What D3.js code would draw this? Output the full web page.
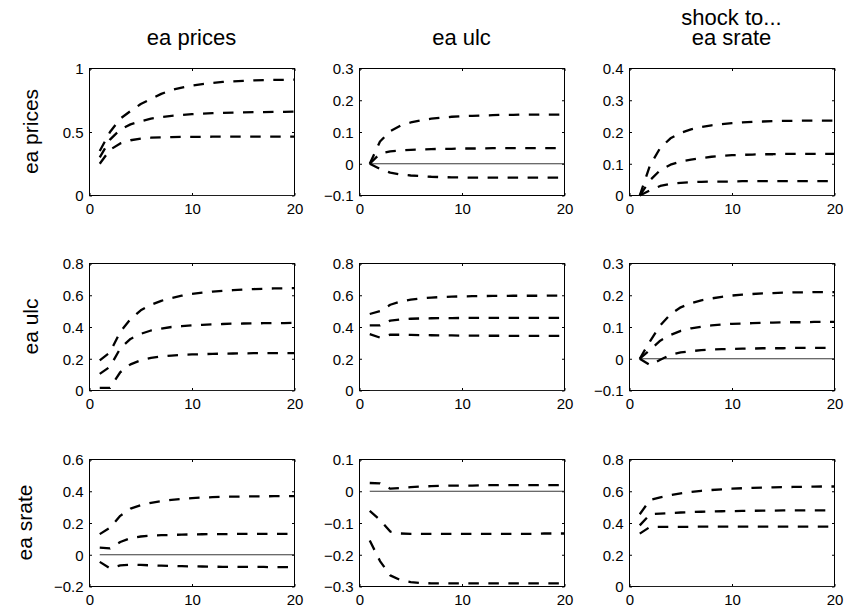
<!DOCTYPE html>
<html><head><meta charset="utf-8">
<script src="https://cdn.jsdelivr.net/npm/d3@7"></script>
<style>body{margin:0;background:#fff}svg{display:block}</style>
</head><body>
<svg id="chart" width="844" height="607"></svg>
<script>
// ---------- data ----------
const horizons = [1,2,3,4,5,6,7,8,9,10,11,12,13,14,15,16,17,18,19,20];
const shockNames = ["ea prices", "ea ulc", "ea srate"];
const responseNames = ["ea prices", "ea ulc", "ea srate"];
const titleTop = "shock to...";

// row 1: response of ea prices
const pricesToPricesHi = [0.35,0.50,0.605,0.665,0.72,0.76,0.80,0.83,0.85,0.865,0.877,0.887,0.894,0.899,0.903,0.906,0.908,0.910,0.911,0.912];
const pricesToPricesMid = [0.30,0.44,0.52,0.56,0.585,0.605,0.618,0.627,0.634,0.640,0.644,0.648,0.651,0.653,0.655,0.656,0.657,0.658,0.659,0.660];
const pricesToPricesLo = [0.25,0.36,0.41,0.435,0.448,0.455,0.458,0.460,0.461,0.462,0.462,0.463,0.463,0.463,0.463,0.463,0.463,0.463,0.463,0.463];

const pricesToUlcHi = [0,0.070,0.103,0.120,0.130,0.137,0.142,0.145,0.148,0.150,0.151,0.152,0.153,0.154,0.154,0.155,0.155,0.155,0.155,0.155];
const pricesToUlcMid = [0,0.032,0.039,0.042,0.044,0.045,0.046,0.047,0.047,0.048,0.048,0.048,0.049,0.049,0.049,0.049,0.049,0.049,0.049,0.049];
const pricesToUlcLo = [0,-0.016,-0.028,-0.034,-0.037,-0.039,-0.041,-0.042,-0.043,-0.043,-0.044,-0.044,-0.044,-0.044,-0.044,-0.044,-0.044,-0.044,-0.044,-0.044];

const pricesToSrateHi = [0,0.095,0.150,0.180,0.197,0.208,0.216,0.221,0.225,0.228,0.230,0.232,0.233,0.234,0.235,0.235,0.236,0.236,0.236,0.236];
const pricesToSrateMid = [0,0.048,0.080,0.097,0.107,0.113,0.118,0.122,0.125,0.127,0.128,0.129,0.130,0.130,0.131,0.131,0.131,0.131,0.131,0.131];
const pricesToSrateLo = [0,0.016,0.030,0.037,0.040,0.042,0.043,0.044,0.044,0.044,0.045,0.045,0.045,0.045,0.045,0.045,0.045,0.045,0.045,0.045];

// row 2: response of ea ulc
const ulcToPricesHi = [0.19,0.24,0.37,0.45,0.505,0.54,0.565,0.583,0.597,0.608,0.616,0.623,0.628,0.632,0.636,0.639,0.641,0.643,0.644,0.645];
const ulcToPricesMid = [0.105,0.15,0.265,0.325,0.357,0.378,0.39,0.40,0.405,0.41,0.414,0.417,0.419,0.421,0.422,0.423,0.424,0.425,0.425,0.426];
const ulcToPricesLo = [0.017,0.017,0.115,0.165,0.19,0.205,0.214,0.22,0.224,0.227,0.229,0.231,0.232,0.233,0.234,0.235,0.235,0.236,0.236,0.236];

const ulcToUlcHi = [0.482,0.50,0.54,0.56,0.572,0.58,0.585,0.589,0.591,0.593,0.594,0.595,0.596,0.596,0.597,0.597,0.597,0.597,0.598,0.598];
const ulcToUlcMid = [0.41,0.41,0.44,0.448,0.452,0.454,0.455,0.456,0.456,0.457,0.457,0.457,0.457,0.457,0.457,0.457,0.457,0.457,0.457,0.457];
const ulcToUlcLo = [0.355,0.333,0.352,0.351,0.35,0.349,0.348,0.347,0.347,0.346,0.346,0.345,0.345,0.345,0.344,0.344,0.344,0.344,0.344,0.344];

const ulcToSrateHi = [0,0.055,0.105,0.14,0.162,0.175,0.184,0.19,0.195,0.199,0.202,0.204,0.206,0.207,0.208,0.209,0.209,0.21,0.21,0.21];
const ulcToSrateMid = [0,0.028,0.057,0.075,0.088,0.096,0.101,0.105,0.108,0.11,0.111,0.112,0.113,0.114,0.115,0.115,0.115,0.116,0.116,0.116];
const ulcToSrateLo = [0,-0.02,-0.003,0.012,0.02,0.024,0.027,0.029,0.03,0.031,0.032,0.032,0.033,0.033,0.033,0.034,0.034,0.034,0.034,0.034];

// row 3: response of ea srate
const srateToPricesHi = [0.13,0.17,0.245,0.29,0.312,0.327,0.338,0.346,0.352,0.357,0.36,0.363,0.365,0.366,0.367,0.368,0.368,0.369,0.369,0.369];
const srateToPricesMid = [0.045,0.04,0.08,0.105,0.115,0.12,0.123,0.125,0.127,0.128,0.129,0.13,0.13,0.131,0.131,0.131,0.132,0.132,0.132,0.132];
const srateToPricesLo = [-0.045,-0.085,-0.067,-0.062,-0.064,-0.067,-0.069,-0.071,-0.072,-0.073,-0.074,-0.075,-0.076,-0.076,-0.077,-0.077,-0.077,-0.078,-0.078,-0.078];

const srateToUlcHi = [0.026,0.025,0.008,0.01,0.013,0.015,0.016,0.017,0.018,0.018,0.018,0.019,0.019,0.019,0.019,0.019,0.019,0.019,0.019,0.019];
const srateToUlcMid = [-0.062,-0.09,-0.127,-0.133,-0.134,-0.134,-0.134,-0.134,-0.134,-0.134,-0.134,-0.134,-0.134,-0.134,-0.134,-0.134,-0.134,-0.133,-0.133,-0.133];
const srateToUlcLo = [-0.155,-0.22,-0.265,-0.28,-0.286,-0.289,-0.29,-0.29,-0.29,-0.29,-0.29,-0.29,-0.29,-0.29,-0.29,-0.29,-0.29,-0.29,-0.29,-0.29];

const srateToSrateHi = [0.455,0.545,0.562,0.575,0.587,0.596,0.603,0.608,0.612,0.616,0.619,0.621,0.623,0.625,0.626,0.627,0.628,0.629,0.63,0.63];
const srateToSrateMid = [0.385,0.455,0.459,0.463,0.466,0.469,0.471,0.473,0.474,0.475,0.476,0.477,0.478,0.478,0.479,0.479,0.479,0.48,0.48,0.48];
const srateToSrateLo = [0.333,0.375,0.376,0.376,0.376,0.376,0.377,0.377,0.377,0.377,0.377,0.377,0.377,0.377,0.377,0.377,0.377,0.377,0.377,0.377];

// axis limits and ticks (row-major, 3x3)
const yDomains = [[0,1],[-0.1,0.3],[0,0.4],[0,0.8],[0,0.8],[-0.1,0.3],[-0.2,0.6],[-0.3,0.1],[0,0.8]];
const yTickValues = [
  [0,0.5,1],[-0.1,0,0.1,0.2,0.3],[0,0.1,0.2,0.3,0.4],
  [0,0.2,0.4,0.6,0.8],[0,0.2,0.4,0.6,0.8],[-0.1,0,0.1,0.2,0.3],
  [-0.2,0,0.2,0.4,0.6],[-0.3,-0.2,-0.1,0,0.1],[0,0.2,0.4,0.6,0.8]
];
const yTickLabels = [
  ["0","0.5","1"],["\u22120.1","0","0.1","0.2","0.3"],["0","0.1","0.2","0.3","0.4"],
  ["0","0.2","0.4","0.6","0.8"],["0","0.2","0.4","0.6","0.8"],["\u22120.1","0","0.1","0.2","0.3"],
  ["\u22120.2","0","0.2","0.4","0.6"],["\u22120.3","\u22120.2","\u22120.1","0","0.1"],["0","0.2","0.4","0.6","0.8"]
];
const xDomain = [0,20];
const xTickValues = [0,10,20];
const xTickLabels = ["0","10","20"];

const panelSeries = [
  [pricesToPricesHi,pricesToPricesMid,pricesToPricesLo],
  [pricesToUlcHi,pricesToUlcMid,pricesToUlcLo],
  [pricesToSrateHi,pricesToSrateMid,pricesToSrateLo],
  [ulcToPricesHi,ulcToPricesMid,ulcToPricesLo],
  [ulcToUlcHi,ulcToUlcMid,ulcToUlcLo],
  [ulcToSrateHi,ulcToSrateMid,ulcToSrateLo],
  [srateToPricesHi,srateToPricesMid,srateToPricesLo],
  [srateToUlcHi,srateToUlcMid,srateToUlcLo],
  [srateToSrateHi,srateToSrateMid,srateToSrateLo]
];

// ---------- layout ----------
const FONT = "'Liberation Sans', Arial, Helvetica, sans-serif";
const colLeft = [89, 359, 629];
const rowTop = [68, 263, 459];
const pw = 205, ph = 127;
const rowLabelX = [38, 38, 32];

const svg = d3.select("#chart");
svg.append("rect").attr("width",844).attr("height",607).attr("fill","#fff");

const x = d3.scaleLinear().domain(xDomain).range([0, pw]);

for (let r = 0; r < 3; r++) {
  for (let c = 0; c < 3; c++) {
    const i = r*3 + c;
    const y = d3.scaleLinear().domain(yDomains[i]).range([ph, 0]);
    const g = svg.append("g").attr("transform", `translate(${colLeft[c]+0.5},${rowTop[r]+0.5})`);

    g.append("rect").attr("width", pw).attr("height", ph)
      .attr("fill", "#fff").attr("stroke", "#000").attr("stroke-width", 1);

    const styleAxis = (ax) => {
      ax.select(".domain").remove();
      ax.selectAll(".tick line").attr("stroke", "#000").attr("stroke-width", 1);
      ax.attr("font-family", FONT).attr("font-size", 15);
      ax.selectAll("text").attr("fill", "#000");
    };

    g.append("g").call(d3.axisLeft(y).tickValues(yTickValues[i]).tickSize(-2.5).tickPadding(6)
        .tickFormat((d, k) => yTickLabels[i][k])).call(styleAxis)
      .selectAll("text").attr("dy", "0.36em");
    g.append("g").attr("transform", `translate(${pw},0)`)
      .call(d3.axisRight(y).tickValues(yTickValues[i]).tickSize(-2.5).tickFormat("")).call(styleAxis);
    g.append("g").attr("transform", `translate(0,${ph})`)
      .call(d3.axisBottom(x).tickValues(xTickValues).tickSize(-2.5).tickPadding(8)
        .tickFormat((d, k) => xTickLabels[k])).call(styleAxis);
    g.append("g")
      .call(d3.axisTop(x).tickValues(xTickValues).tickSize(-2.5).tickFormat("")).call(styleAxis);

    // zero reference line
    const [y0, y1] = yDomains[i];
    if (y0 <= 0 && y1 >= 0) {
      g.append("line")
        .attr("x1", x(horizons[0])).attr("x2", x(horizons[horizons.length-1]))
        .attr("y1", y(0)).attr("y2", y(0))
        .attr("stroke", "#222").attr("stroke-width", 0.9);
    }

    const line = d3.line().x((d, k) => x(horizons[k])).y(d => y(d));
    panelSeries[i].forEach(s => {
      g.append("path").datum(s).attr("d", line)
        .attr("fill", "none").attr("stroke", "#000").attr("stroke-width", 2.3)
        .attr("stroke-dasharray", "10.5,9.5").attr("stroke-linejoin", "round");
    });
  }
}

// column titles
shockNames.forEach((name, c) => {
  const cx = colLeft[c] + pw/2;
  const t = svg.append("text").attr("x", cx).attr("y", 45)
    .attr("text-anchor", "middle").attr("font-family", FONT).attr("font-size", 22)
    .attr("fill", "#000");
  if (c === 2) {
    t.attr("y", 25);
    t.append("tspan").attr("x", cx).text(titleTop);
    t.append("tspan").attr("x", cx).attr("dy", 20).text(name);
  } else {
    t.text(name);
  }
});

// row labels
responseNames.forEach((name, r) => {
  const cy = rowTop[r] + ph/2;
  svg.append("text").attr("transform", `translate(${rowLabelX[r]},${cy}) rotate(-90)`)
    .attr("text-anchor", "middle").attr("font-family", FONT).attr("font-size", 21)
    .attr("fill", "#000").text(name);
});
</script>
</body></html>
